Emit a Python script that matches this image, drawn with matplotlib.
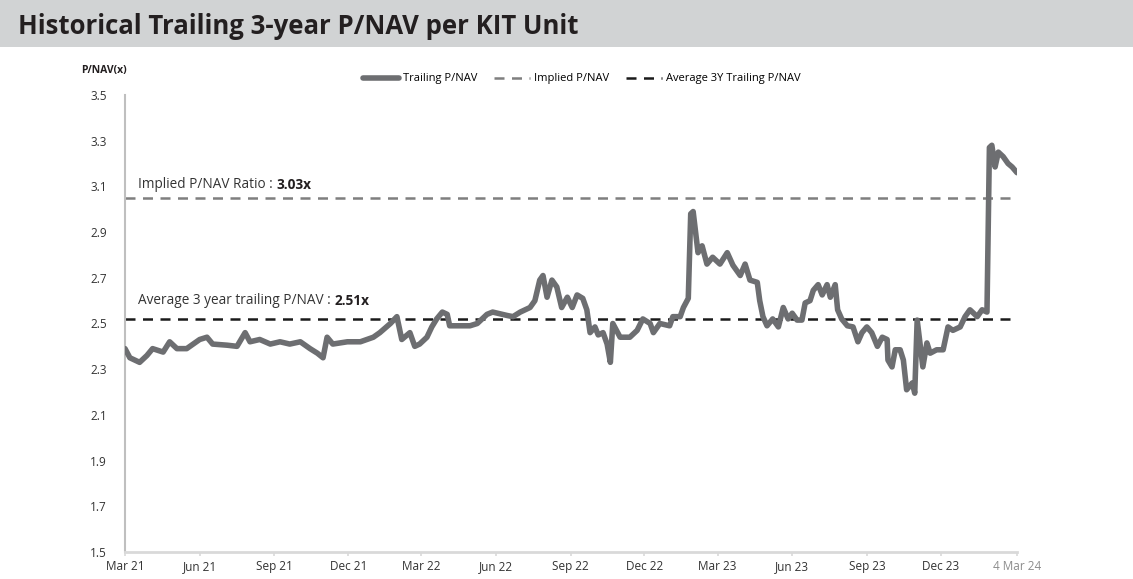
import matplotlib
matplotlib.use('Agg')
import matplotlib.pyplot as plt
import pandas as pd

# Trailing P/NAV
dates = [
    '2021-03-01', '2021-03-07', '2021-03-19', '2021-03-28', '2021-04-04', '2021-04-17',
    '2021-04-25', '2021-05-04', '2021-05-16', '2021-06-01', '2021-06-10', '2021-06-17',
    '2021-07-05', '2021-07-17', '2021-07-27', '2021-08-02', '2021-08-14', '2021-08-27',
    '2021-09-08', '2021-09-20', '2021-10-03', '2021-10-15', '2021-10-24', '2021-10-31',
    '2021-11-05', '2021-11-12', '2021-11-30', '2021-12-16', '2022-01-01', '2022-01-09',
    '2022-01-22', '2022-01-30', '2022-02-05', '2022-02-15', '2022-02-21', '2022-02-27',
    '2022-03-08', '2022-03-14', '2022-03-20', '2022-03-27', '2022-04-02', '2022-04-05',
    '2022-04-30', '2022-05-09', '2022-05-21', '2022-05-28', '2022-06-15', '2022-06-22',
    '2022-07-01', '2022-07-13', '2022-07-19', '2022-07-25', '2022-07-29', '2022-08-03',
    '2022-08-09', '2022-08-15', '2022-08-21', '2022-08-28', '2022-09-03', '2022-09-09',
    '2022-09-16', '2022-09-21', '2022-09-25', '2022-10-01', '2022-10-05', '2022-10-11',
    '2022-10-16', '2022-10-20', '2022-10-23', '2022-11-01', '2022-11-13', '2022-11-22',
    '2022-11-29', '2022-12-08', '2022-12-12', '2022-12-20', '2023-01-01', '2023-01-05',
    '2023-01-14', '2023-01-18', '2023-01-24', '2023-01-27', '2023-01-30', '2023-02-05',
    '2023-02-10', '2023-02-16', '2023-02-23', '2023-03-04', '2023-03-13', '2023-03-20',
    '2023-03-29', '2023-04-04', '2023-04-10', '2023-04-19', '2023-04-22', '2023-04-26',
    '2023-05-01', '2023-05-08', '2023-05-15', '2023-05-21', '2023-05-27', '2023-06-01',
    '2023-06-07', '2023-06-13', '2023-06-17', '2023-06-23', '2023-06-27', '2023-07-03',
    '2023-07-08', '2023-07-14', '2023-07-18', '2023-07-24', '2023-07-27', '2023-08-01',
    '2023-08-08', '2023-08-15', '2023-08-21', '2023-08-26', '2023-09-01', '2023-09-07',
    '2023-09-14', '2023-09-20', '2023-09-26', '2023-09-27', '2023-10-02', '2023-10-06',
    '2023-10-12', '2023-10-16', '2023-10-20', '2023-10-27', '2023-10-30', '2023-11-02',
    '2023-11-06', '2023-11-09', '2023-11-14', '2023-11-18', '2023-11-26', '2023-12-04',
    '2023-12-10', '2023-12-16', '2023-12-25', '2023-12-31', '2024-01-06', '2024-01-15',
    '2024-01-21', '2024-01-27', '2024-01-30', '2024-02-02', '2024-02-06', '2024-02-10',
    '2024-02-16', '2024-02-22', '2024-02-27', '2024-03-04',
]
trailing_pnav = [
    2.39, 2.35, 2.33, 2.36, 2.39, 2.375,
    2.42, 2.39, 2.39, 2.43, 2.44, 2.41,
    2.405, 2.40, 2.46, 2.42, 2.43, 2.41,
    2.42, 2.41, 2.42, 2.39, 2.37, 2.35,
    2.44, 2.41, 2.42, 2.42, 2.44, 2.46,
    2.50, 2.53, 2.43, 2.46, 2.40, 2.41,
    2.44, 2.485, 2.52, 2.55, 2.54, 2.49,
    2.49, 2.50, 2.54, 2.55, 2.535, 2.53,
    2.55, 2.57, 2.60, 2.69, 2.71, 2.615,
    2.69, 2.66, 2.57, 2.615, 2.57, 2.625,
    2.61, 2.56, 2.46, 2.485, 2.45, 2.46,
    2.41, 2.33, 2.50, 2.44, 2.44, 2.47,
    2.52, 2.50, 2.46, 2.50, 2.49, 2.53,
    2.53, 2.57, 2.61, 2.98, 2.99, 2.81,
    2.84, 2.76, 2.79, 2.76, 2.81, 2.755,
    2.71, 2.76, 2.69, 2.68, 2.60, 2.53,
    2.49, 2.52, 2.485, 2.57, 2.52, 2.545,
    2.515, 2.515, 2.59, 2.60, 2.645, 2.67,
    2.625, 2.67, 2.615, 2.67, 2.56, 2.52,
    2.49, 2.485, 2.42, 2.46, 2.485, 2.46,
    2.40, 2.44, 2.43, 2.34, 2.31, 2.385,
    2.385, 2.34, 2.21, 2.24, 2.195, 2.515,
    2.40, 2.31, 2.415, 2.37, 2.385, 2.385,
    2.485, 2.47, 2.485, 2.53, 2.56, 2.53,
    2.56, 2.55, 3.27, 3.28, 3.185, 3.25,
    3.23, 3.20, 3.185, 3.16,
]

implied_pnav = 3.05
avg_3y_pnav = 2.52
implied_label = '3.03x'
avg_label = '2.51x'

tick_dates = ['2021-03-01', '2021-06-01', '2021-09-01', '2021-12-01',
              '2022-03-01', '2022-06-01', '2022-09-01', '2022-12-01',
              '2023-03-01', '2023-06-01', '2023-09-01', '2023-12-01', '2024-03-04']
tick_labels = ['Mar 21', 'Jun 21', 'Sep 21', 'Dec 21', 'Mar 22', 'Jun 22', 'Sep 22',
               'Dec 22', 'Mar 23', 'Jun 23', 'Sep 23', 'Dec 23', '4 Mar 24']
y_ticks = [1.5, 1.7, 1.9, 2.1, 2.3, 2.5, 2.7, 2.9, 3.1, 3.3, 3.5]

plt.rcParams['font.family'] = ['Open Sans', 'DejaVu Sans']

W, H = 1133, 579
fig = plt.figure(figsize=(W / 100, H / 100), dpi=100)

# grey header band with the title
fig.patches.append(plt.Rectangle((0, 1 - 47 / H), 1, 47 / H, transform=fig.transFigure,
                                 facecolor='#d1d3d4', edgecolor='none', zorder=0))
fig.text(18 / W, 1 - 27 / H, 'Historical Trailing 3-year P/NAV per KIT Unit',
         fontsize=18.5, fontweight='bold', color='#231f20', va='center')
fig.text(81 / W, 1 - 71 / H, 'P/NAV(x)', fontsize=7.5, fontweight='bold',
         color='#231f20', va='center')

ax = fig.add_axes([125 / W, 1 - 552 / H, (1017 - 125) / W, (552 - 95) / H])

x = pd.to_datetime(dates)
ax.plot(x, trailing_pnav, color='#6d6e71', lw=4, solid_joinstyle='round',
        solid_capstyle='round', label='Trailing P/NAV', zorder=3)
ax.axhline(implied_pnav, color='#7f7f7f', lw=1.8, dashes=(4, 3), label='Implied P/NAV', zorder=2)
ax.axhline(avg_3y_pnav, color='#1a1a1a', lw=1.8, dashes=(4, 3),
           label='Average 3Y Trailing P/NAV', zorder=2)

# annotations: normal text followed by a bold value
t1 = ax.text(0.0146, 3.11, 'Implied P/NAV Ratio : ', transform=ax.get_yaxis_transform(),
             fontsize=9.8, color='#333333', va='center')
ax.annotate(implied_label, xy=(1, 0), xycoords=t1, va='bottom', fontsize=9.8,
            fontweight='bold', color='#231f20')
t2 = ax.text(0.0146, 2.6, 'Average 3 year trailing P/NAV : ', transform=ax.get_yaxis_transform(),
             fontsize=9.8, color='#333333', va='center')
ax.annotate(avg_label, xy=(1, 0), xycoords=t2, va='bottom', fontsize=9.8,
            fontweight='bold', color='#231f20')

ax.set_xlim(pd.Timestamp(tick_dates[0]), pd.Timestamp(tick_dates[-1]))
ax.set_ylim(1.5, 3.5)
ax.set_yticks(y_ticks)
ax.set_yticklabels(['%.1f' % v for v in y_ticks])
ax.set_xticks(pd.to_datetime(tick_dates))
ax.set_xticklabels(tick_labels)

ax.tick_params(axis='x', length=3, width=1.2, color='#d9d9d9', labelsize=8.5,
               labelcolor='#333333', pad=3)
ax.get_xticklabels()[-1].set_color('#8c8c8c')
ax.tick_params(axis='y', length=0, labelsize=8.5, labelcolor='#333333', pad=13)

for side in ['top', 'right']:
    ax.spines[side].set_visible(False)
ax.spines['left'].set_color('#bfbfbf')
ax.spines['left'].set_linewidth(1.5)
ax.spines['bottom'].set_color('#d9d9d9')
ax.spines['bottom'].set_linewidth(2)

fig.legend(loc='center', bbox_to_anchor=(582 / W, 1 - 79 / H), ncol=3, frameon=False,
           fontsize=8, handlelength=3.2, handletextpad=0.4, columnspacing=1.5)

fig.savefig('out.png', dpi=100)
